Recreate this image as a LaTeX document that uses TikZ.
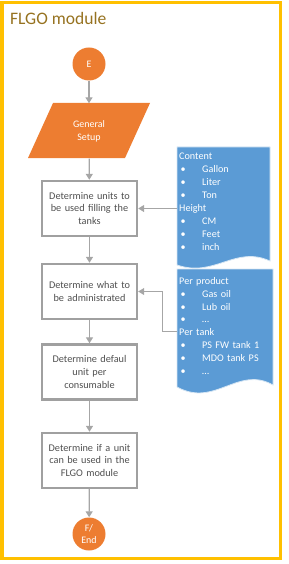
\documentclass[tikz,border=0pt]{standalone}
\usepackage{fontspec}
\setmainfont{Carlito}
\usetikzlibrary{arrows.meta}
\definecolor{flowgray}{RGB}{166,166,166}
\definecolor{flowbox}{RGB}{160,160,160}
\definecolor{floworange}{RGB}{237,125,49}
\definecolor{flowblue}{RGB}{91,155,213}
\definecolor{framegold}{RGB}{255,192,0}
\definecolor{titlegold}{RGB}{150,114,32}
\definecolor{boxtext}{RGB}{80,80,80}
\newcommand{\itm}[1]{\hspace*{1.5bp}\makebox[21.5bp][l]{\textbullet}#1}

\begin{document}
\begin{tikzpicture}[x=1bp,y=-1bp,
  >={Triangle[width=7bp,length=6bp]},
  flow/.style={->,flowgray,line width=1.3bp},
  stepbox/.style={draw=flowbox,line width=2.4bp,fill=white,minimum width=95bp,
    minimum height=55bp,text width=92bp,align=center,text=boxtext,inner sep=1bp,
    font=\fontsize{10.3}{12.8}\selectfont},
  terminal/.style={circle,fill=floworange,minimum size=33bp,inner sep=0pt,
    text=white,align=center,font=\fontsize{10}{12.5}\selectfont},
  doclist/.style={anchor=north west,text=white,align=left,text width=94bp,
    inner sep=2bp,font=\fontsize{10.2}{12.95}\selectfont},
  docshape/.style={fill=flowblue,draw=white!75!flowblue,line width=0.8bp}
]
\useasboundingbox (0,0) rectangle (288,564);
\draw[framegold,line width=3.5bp] (1.8,2.5) rectangle (280.5,558.3);
\node[anchor=base west,text=titlegold,inner sep=0pt,
  font=\fontsize{17.6}{20}\selectfont] (title) at (10,25) {FLGO module};

% main flow
\node[terminal] (start) at (89,64) {E};
\fill[floworange] (53,103) -- (150,103) -- (125,158) -- (28,158) -- cycle;
\node[minimum width=70bp,minimum height=55bp,inner sep=0pt,text=white,align=center,
  font=\fontsize{10}{13}\selectfont] (setup) at (89,131) {General\\Setup};
\node[stepbox] (units) at (89.5,208.5) {Determine units to\\be used filling the\\tanks};
\node[stepbox] (admin) at (89.5,291.5) {Determine what to\\be administrated};
\node[stepbox] (consum) at (89.5,372) {Determine defaul\\unit per\\consumable};
\node[stepbox] (usable) at (89.5,460.5) {Determine if a unit\\can be used in the\\FLGO module};
\node[terminal] (finish) at (89,534) {F/\\End};

\draw[flow] (start) -- (setup);
\draw[flow] (setup) -- (units);
\draw[flow] (units) -- (admin);
\draw[flow] (admin) -- (consum);
\draw[flow] (consum) -- (usable);
\draw[flow] (usable) -- (finish);

% documents
\path[docshape] (177,147) -- (270,147) -- (270,261)
  .. controls (235,245) and (215,278) .. (177,265) -- cycle;
\node[doclist] (content) at (177,151) {Content\\\itm{Gallon}\\\itm{Liter}\\\itm{Ton}\\
  Height\\\itm{CM}\\\itm{Feet}\\\itm{inch}};
\path[docshape] (177,269) -- (273,269) -- (273,385)
  .. controls (238,365) and (215,408) .. (177,387) -- cycle;
\node[doclist] (perunit) at (177,275) {Per product\\\itm{Gas oil}\\\itm{Lub oil}\\\itm{…}\\
  Per tank\\\itm{PS FW tank 1}\\\itm{MDO tank PS}\\\itm{…}};

\coordinate (tankhook) at (177,331);
\draw[flow] (content.west |- units.east) -- (units.east);
\draw[flow,line width=1bp] (tankhook) -- ++(-15,0) |- (admin.east);
\end{tikzpicture}
\end{document}
